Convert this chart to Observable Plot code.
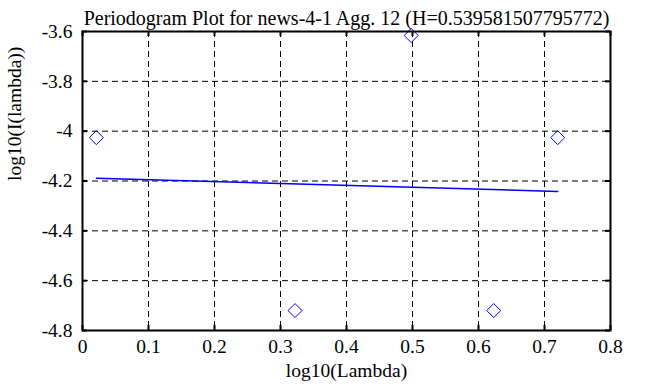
<!DOCTYPE html>
<html>
<head>
<meta charset="utf-8">
<script src="https://cdn.jsdelivr.net/npm/d3@7"></script>
<script src="https://cdn.jsdelivr.net/npm/@observablehq/plot@0.6"></script>
<style>
  html, body { margin: 0; padding: 0; background: white; }
</style>
</head>
<body>
<div id="chart"></div>
<script>
const titleText = "Periodogram Plot for news-4-1 Agg. 12 (H=0.539581507795772)";
const xLabel = "log10(Lambda)";
const yLabel = "log10(I(lambda))";
const xTicks = [0, 0.1, 0.2, 0.3, 0.4, 0.5, 0.6, 0.7, 0.8];
const yTicks = [-4.8, -4.6, -4.4, -4.2, -4, -3.8, -3.6];
const logLambda = [0.021, 0.322, 0.498, 0.623, 0.72];
const logI = [-4.026, -4.72, -3.616, -4.72, -4.026];
const fitX = [0.021, 0.72];
const fitY = [-4.189, -4.242];

const points = logLambda.map((x, i) => ({x, y: logI[i]}));
const fit = fitX.map((x, i) => ({x, y: fitY[i]}));
const fmt = d => String(+d.toFixed(1));
const serif = "Liberation Serif";

const chart = Plot.plot({
  width: 647,
  height: 387,
  marginLeft: 82,
  marginRight: 37,
  marginTop: 31,
  marginBottom: 57,
  style: {fontFamily: serif, fontSize: "19px", background: "white", color: "black"},
  x: {domain: [0, 0.8], axis: null},
  y: {domain: [-4.8, -3.6], axis: null},
  marks: [
    Plot.gridX(xTicks.slice(1, -1), {stroke: "black", strokeOpacity: 1, strokeWidth: 1, strokeDasharray: "6,4"}),
    Plot.gridY(yTicks.slice(1, -1), {stroke: "black", strokeOpacity: 1, strokeWidth: 1, strokeDasharray: "6,4"}),
    Plot.tickY(yTicks, {y: d => d, stroke: "black", strokeWidth: 2, insetRight: 523}),
    Plot.tickY(yTicks, {y: d => d, stroke: "black", strokeWidth: 2, insetLeft: 523}),
    Plot.tickX(xTicks, {x: d => d, stroke: "black", strokeWidth: 2, insetTop: 294}),
    Plot.tickX(xTicks, {x: d => d, stroke: "black", strokeWidth: 2, insetBottom: 294}),
    Plot.text(xTicks, {x: d => d, text: fmt, frameAnchor: "bottom", lineAnchor: "top", dy: 9, fontSize: 19.5, fontFamily: serif}),
    Plot.text(yTicks, {y: d => d, text: fmt, frameAnchor: "left", textAnchor: "end", dx: -10, fontSize: 19.5, fontFamily: serif}),
    Plot.line(fit, {x: "x", y: "y", stroke: "#0000ff", strokeWidth: 1.5}),
    Plot.dot(points, {x: "x", y: "y", symbol: "diamond2", r: 6.3, stroke: "#0000ff", strokeWidth: 1, fill: "none"}),
    Plot.frame({stroke: "black", strokeWidth: 2}),
    Plot.text([titleText], {text: d => d, frameAnchor: "top", dy: -21, fontSize: 20, fontFamily: serif}),
    Plot.text([xLabel], {text: d => d, frameAnchor: "bottom", dy: 46, fontSize: 19.5, fontFamily: serif}),
    Plot.text([yLabel], {text: d => d, frameAnchor: "left", dx: -68, rotate: -90, fontSize: 19.5, fontFamily: serif})
  ]
});
document.getElementById("chart").appendChild(chart);
</script>
</body>
</html>
